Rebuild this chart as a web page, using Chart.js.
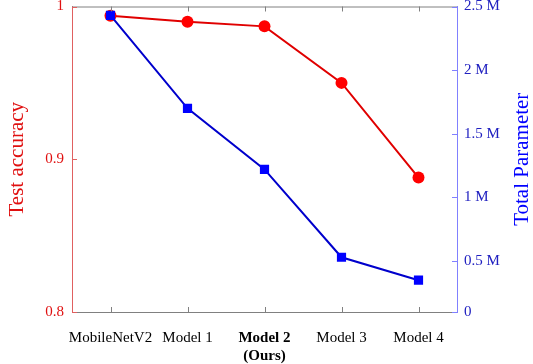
<!DOCTYPE html>
<html>
<head>
<meta charset="utf-8">
<script src="https://cdn.jsdelivr.net/npm/chart.js@4/dist/chart.umd.min.js"></script>
<style>
  html, body { margin: 0; padding: 0; background: #fff; }
  #wrap { width: 533px; height: 364px; position: relative; }
</style>
</head>
<body>
<div id="wrap"><canvas id="chart"></canvas></div>
<script>
const models = ['MobileNetV2', 'Model 1', ['Model 2', '(Ours)'], 'Model 3', 'Model 4'];
const boldIndex = 2;
const accuracy = [0.994, 0.990, 0.987, 0.950, 0.888];
const params = [2430000, 1700000, 1220000, 530000, 350000];
const accTicks = [0.8, 0.9, 1];
const paramTickLabels = ['0', '0.5 M', '1 M', '1.5 M', '2 M', '2.5 M'];

const serif = '"Liberation Serif", "Times New Roman", serif';
const red = '#ff0000';
const redLine = '#e00000';
const redText = '#e01010';
const blue = '#0000ff';
const blueLine = '#0000cc';
const blueText = '#2020c0';

// ticks drawn inward + top frame line + right axis title (reads bottom to top)
const extras = {
  id: 'extras',
  afterDraw(chart) {
    const { ctx, chartArea: a, scales } = chart;
    ctx.save();
    ctx.lineWidth = 1;
    ctx.strokeStyle = '#808080';
    ctx.beginPath();
    ctx.moveTo(a.left, a.top + 0.5);
    ctx.lineTo(a.right, a.top + 0.5);
    scales.x.ticks.forEach((t, i) => {
      const px = Math.round(scales.x.getPixelForTick(i)) + 0.5;
      ctx.moveTo(px, a.bottom);
      ctx.lineTo(px, a.bottom - 5);
      ctx.moveTo(px, a.top);
      ctx.lineTo(px, a.top + 5);
    });
    ctx.stroke();

    ctx.strokeStyle = '#e06060';
    ctx.beginPath();
    scales.y.ticks.forEach((t, i) => {
      const py = Math.round(scales.y.getPixelForTick(i)) + 0.5;
      ctx.moveTo(a.left, py);
      ctx.lineTo(a.left + 5, py);
    });
    ctx.stroke();

    ctx.strokeStyle = '#8080ff';
    ctx.beginPath();
    scales.y1.ticks.forEach((t, i) => {
      const py = Math.round(scales.y1.getPixelForTick(i)) + 0.5;
      ctx.moveTo(a.right, py);
      ctx.lineTo(a.right - 5, py);
    });
    ctx.stroke();

    ctx.translate(522, (a.top + a.bottom) / 2);
    ctx.rotate(-Math.PI / 2);
    ctx.font = '21px ' + serif;
    ctx.fillStyle = blue;
    ctx.textAlign = 'center';
    ctx.textBaseline = 'middle';
    ctx.fillText('Total Parameter', 0, 0);
    ctx.restore();
  }
};

new Chart(document.getElementById('chart'), {
  type: 'line',
  data: {
    labels: models,
    datasets: [
      {
        label: 'Total Parameter',
        data: params,
        yAxisID: 'y1',
        borderColor: blueLine,
        backgroundColor: blue,
        borderWidth: 2,
        pointStyle: 'rect',
        pointRadius: 6.5,
        pointBorderWidth: 0,
        pointBackgroundColor: blue,
        order: 0,
      },
      {
        label: 'Test accuracy',
        data: accuracy,
        yAxisID: 'y',
        borderColor: redLine,
        backgroundColor: red,
        borderWidth: 2,
        pointStyle: 'circle',
        pointRadius: 6,
        pointBorderWidth: 0,
        pointBackgroundColor: red,
        order: 1,
      },
    ],
  },
  plugins: [extras],
  options: {
    responsive: true,
    maintainAspectRatio: false,
    animation: false,
    layout: { padding: { top: 5, left: 0, right: 0, bottom: 0 } },
    plugins: {
      legend: { display: false },
      tooltip: { enabled: false },
    },
    scales: {
      x: {
        offset: true,
        grid: { display: false, drawTicks: false },
        border: { display: true, color: '#808080', width: 1 },
        ticks: {
          color: '#000',
          padding: 17,
          maxRotation: 0,
          autoSkip: false,
          font: (c) => ({ family: serif, size: 15, weight: c.index === boldIndex ? 'bold' : 'normal' }),
        },
        afterFit: (s) => { s.height = 52; s.paddingLeft = 0; s.paddingRight = 0; },
      },
      y: {
        position: 'left',
        min: accTicks[0],
        max: accTicks[accTicks.length - 1],
        afterBuildTicks: (s) => { s.ticks = accTicks.map(v => ({ value: v })); },
        grid: { display: false, drawTicks: false },
        border: { display: true, color: '#e06060', width: 1 },
        ticks: {
          color: redText,
          padding: 8,
          font: { family: serif, size: 15 },
          callback: (v) => String(parseFloat(v.toFixed(2))),
        },
        title: {
          display: true,
          text: 'Test accuracy',
          color: redText,
          font: { family: serif, size: 21 },
          padding: { top: 5, bottom: 0 },
        },
        afterFit: (s) => { s.width = 72; s.paddingTop = 0; s.paddingBottom = 0; },
      },
      y1: {
        position: 'right',
        min: 100000,
        max: 2500000,
        afterBuildTicks: (s) => {
          s.ticks = paramTickLabels.map((l, i) => ({ value: i === 0 ? 100000 : i * 500000 }));
        },
        grid: { display: false, drawTicks: false },
        border: { display: true, color: '#8080ff', width: 1 },
        ticks: {
          color: blueText,
          padding: 7,
          font: { family: serif, size: 15 },
          callback: (v, i) => paramTickLabels[i],
        },
        afterFit: (s) => { s.width = 76; s.paddingTop = 0; s.paddingBottom = 0; },
      },
    },
  },
});
</script>
</body>
</html>
